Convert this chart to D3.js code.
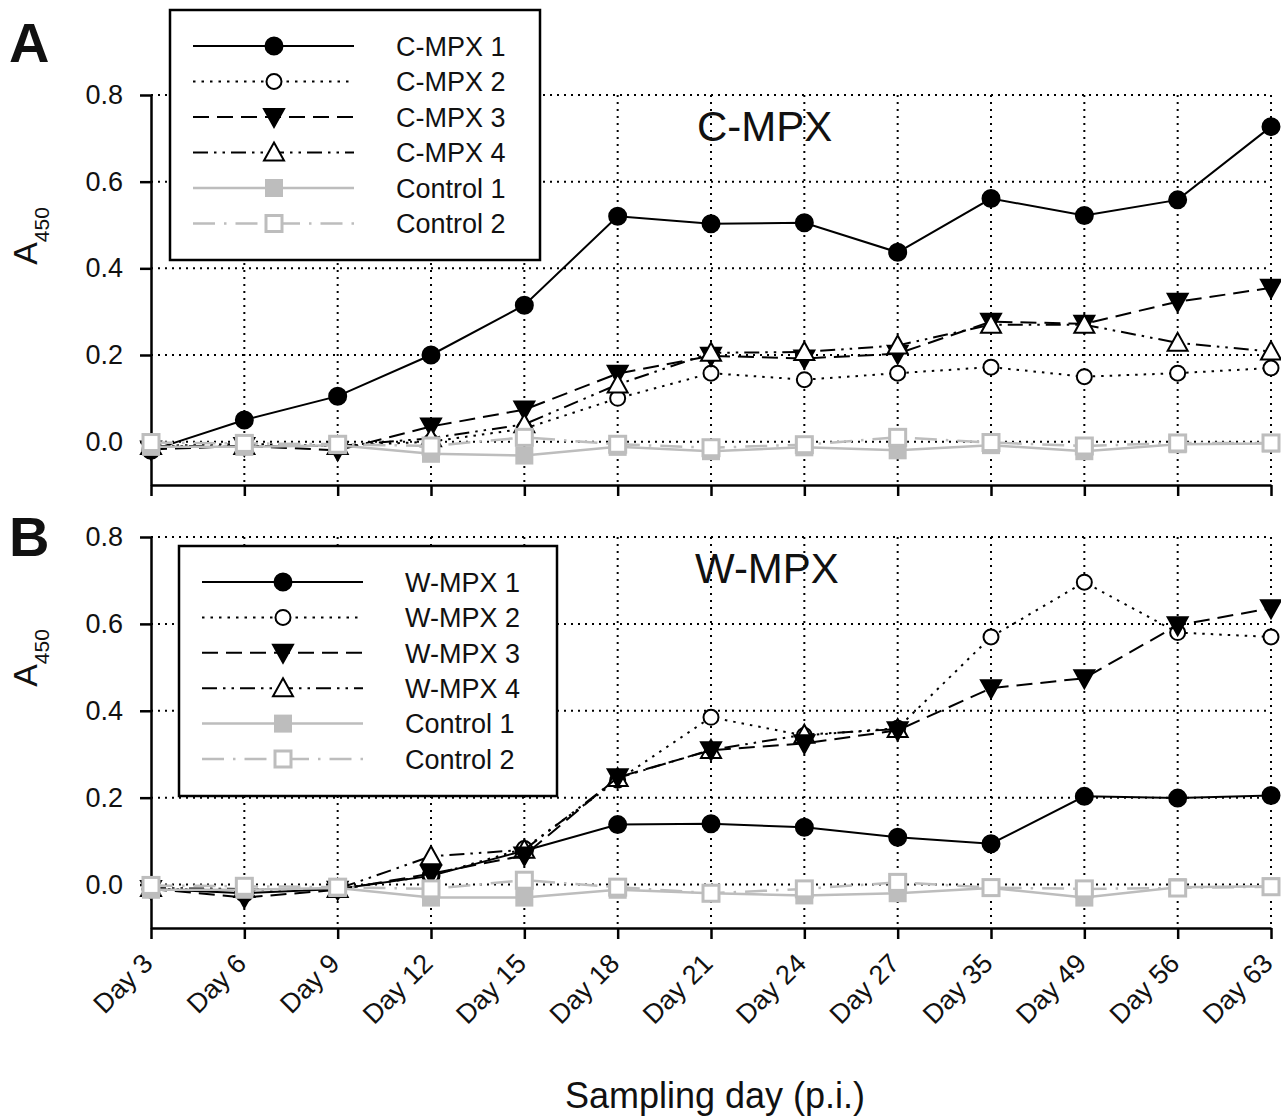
<!DOCTYPE html>
<html>
<head>
<meta charset="utf-8">
<script src="https://cdn.jsdelivr.net/npm/d3@7"></script>
<style>
  body { margin: 0; background: #fff; }
  svg text { font-family: "Liberation Sans", Arial, sans-serif; fill: #111; }
</style>
</head>
<body>
<div id="chart"></div>
<script>
// DATA
const days = ["Day 3", "Day 6", "Day 9", "Day 12", "Day 15", "Day 18", "Day 21",
              "Day 24", "Day 27", "Day 35", "Day 49", "Day 56", "Day 63"];
const yTicks = [0.0, 0.2, 0.4, 0.6, 0.8];

// panel A: C-MPX
const cmpx1 = [-0.02, 0.05, 0.105, 0.2, 0.315, 0.52, 0.503, 0.505, 0.437, 0.561, 0.522, 0.558, 0.727];
const cmpx2 = [-0.01, -0.005, -0.01, 0.0, 0.03, 0.1, 0.158, 0.143, 0.158, 0.172, 0.15, 0.158, 0.17];
const cmpx3 = [-0.018, -0.01, -0.02, 0.035, 0.074, 0.157, 0.198, 0.192, 0.203, 0.277, 0.272, 0.323, 0.355];
const cmpx4 = [-0.01, -0.01, -0.01, 0.008, 0.04, 0.132, 0.205, 0.207, 0.222, 0.27, 0.27, 0.228, 0.208];
const ctrlA1 = [-0.012, -0.012, -0.008, -0.028, -0.032, -0.012, -0.022, -0.013, -0.02, -0.008, -0.022, -0.006, -0.004];
const ctrlA2 = [-0.002, -0.004, -0.006, -0.01, 0.01, -0.006, -0.014, -0.007, 0.01, -0.002, -0.01, -0.003, -0.003];

// panel B: W-MPX (W-MPX 4 only visible up to Day 27)
const wmpx1 = [-0.01, -0.02, -0.01, 0.02, 0.078, 0.138, 0.14, 0.132, 0.109, 0.094, 0.203, 0.199, 0.205];
const wmpx2 = [-0.01, -0.012, -0.01, 0.02, 0.083, 0.24, 0.385, 0.343, 0.36, 0.57, 0.696, 0.58, 0.57];
const wmpx3 = [-0.01, -0.03, -0.012, 0.025, 0.067, 0.247, 0.309, 0.325, 0.355, 0.452, 0.475, 0.597, 0.636];
const wmpx4 = [-0.008, -0.01, -0.01, 0.065, 0.08, 0.245, 0.31, 0.345, 0.358];
const ctrlB1 = [-0.012, -0.012, -0.008, -0.03, -0.03, -0.012, -0.02, -0.025, -0.02, -0.008, -0.03, -0.006, -0.004];
const ctrlB2 = [-0.002, -0.004, -0.006, -0.01, 0.01, -0.006, -0.02, -0.01, 0.005, -0.007, -0.01, -0.008, -0.005];

const namesA = ["C-MPX 1", "C-MPX 2", "C-MPX 3", "C-MPX 4", "Control 1", "Control 2"];
const namesB = ["W-MPX 1", "W-MPX 2", "W-MPX 3", "W-MPX 4", "Control 1", "Control 2"];

// 1: SVG
const W = 1281, H = 1116;
const svg = d3.select("#chart").append("svg")
    .attr("width", W).attr("height", H);

const gray = "#bdbdbd";
// one style per series slot (same for both panels)
const styles = [
  { color: "#000", dash: null,               width: 2,   marker: "circle",  fill: "#000" },
  { color: "#000", dash: "2.5,6",            width: 2,   marker: "circle",  fill: "#fff" },
  { color: "#000", dash: "16,8",             width: 2,   marker: "triDown", fill: "#000" },
  { color: "#000", dash: "15,6,2.5,6,2.5,6", width: 2,   marker: "triUp",   fill: "#fff" },
  { color: gray,   dash: null,               width: 2.5, marker: "square",  fill: gray },
  { color: gray,   dash: "22,9,2.5,9",       width: 2.5, marker: "square",  fill: "#fff" }
];

// shared x scale
const x = d3.scalePoint().domain(days).range([151, 1271]);

// draw a marker centered at (0,0) inside group g
function drawMarker(g, st) {
  if (st.marker === "circle") {
    g.append("circle").attr("r", st.fill === "#000" ? 8.5 : 7.5)
      .attr("fill", st.fill).attr("stroke", "#000").attr("stroke-width", 2);
  } else if (st.marker === "triDown") {
    g.append("path").attr("d", "M-10,-8L10,-8L0,10Z")
      .attr("fill", st.fill).attr("stroke", "#000").attr("stroke-width", 2);
  } else if (st.marker === "triUp") {
    g.append("path").attr("d", "M0,-10L10,8L-10,8Z")
      .attr("fill", st.fill).attr("stroke", "#000").attr("stroke-width", 2);
  } else {
    const s = st.fill === gray ? 18 : 16;
    g.append("rect").attr("x", -s / 2).attr("y", -s / 2).attr("width", s).attr("height", s)
      .attr("fill", st.fill).attr("stroke", gray).attr("stroke-width", st.fill === gray ? 0 : 3);
  }
}

function drawPanel(p) {
  const y = d3.scaleLinear().domain([-0.1, 0.8]).range([p.bottom, p.top]);
  const g = svg.append("g");

  // grid (dotted)
  g.append("g").selectAll("line.h").data(yTicks).enter().append("line")
    .attr("x1", x.range()[0]).attr("x2", x.range()[1])
    .attr("y1", d => y(d)).attr("y2", d => y(d))
    .attr("stroke", "#000").attr("stroke-width", 2).attr("stroke-dasharray", "2,5");
  g.append("g").selectAll("line.v").data(days.slice(1)).enter().append("line")
    .attr("x1", d => x(d)).attr("x2", d => x(d))
    .attr("y1", y(0.8)).attr("y2", p.bottom)
    .attr("stroke", "#000").attr("stroke-width", 2).attr("stroke-dasharray", "2,5");

  // axes
  const yAxis = g.append("g").attr("transform", `translate(${x.range()[0]},0)`)
    .call(d3.axisLeft(y).tickValues(yTicks).tickFormat(d3.format(".1f"))
      .tickSize(11).tickSizeOuter(0).tickPadding(17));
  yAxis.selectAll("text").style("font-size", "27px");

  const xAxis = g.append("g").attr("transform", `translate(0,${p.bottom})`)
    .call(d3.axisBottom(x).tickSize(11).tickSizeOuter(0));
  if (p.labels) {
    xAxis.selectAll("text")
      .attr("x", 0).attr("y", 0).attr("dy", null)
      .attr("text-anchor", "end")
      .attr("transform", "translate(3,37) rotate(-45)")
      .style("font-size", "27px");
  } else {
    xAxis.selectAll("text").remove();
  }
  g.selectAll(".domain, .tick line").attr("stroke", "#000").attr("stroke-width", 2.5);

  // series (drawn in p.order so overlapping markers stack like the original)
  const line = d3.line().x((d, i) => x(days[i])).y(d => y(d));
  p.order.forEach(k => {
    const vals = p.series[k];
    const st = styles[k];
    g.append("path").datum(vals)
      .attr("d", line).attr("fill", "none")
      .attr("stroke", st.color).attr("stroke-width", st.width)
      .attr("stroke-dasharray", st.dash);
    g.append("g").selectAll("g").data(vals).enter().append("g")
      .attr("transform", (d, i) => `translate(${x(days[i])},${y(d)})`)
      .each(function () { drawMarker(d3.select(this), st); });
  });

  // legend
  const L = p.legend;
  const lg = g.append("g");
  lg.append("rect").attr("x", L.x).attr("y", L.y).attr("width", L.w).attr("height", L.h)
    .attr("fill", "#fff").attr("stroke", "#000").attr("stroke-width", 2.5);
  p.names.forEach((name, k) => {
    const st = styles[k];
    const ry = L.y + L.row0 + k * L.step;
    lg.append("line").attr("x1", L.x + 23).attr("x2", L.x + 184)
      .attr("y1", ry).attr("y2", ry)
      .attr("stroke", st.color).attr("stroke-width", st.width)
      .attr("stroke-dasharray", st.dash);
    drawMarker(lg.append("g").attr("transform", `translate(${L.x + 104},${ry})`), st);
    lg.append("text").attr("x", L.x + 226).attr("y", ry).attr("dy", "0.36em")
      .style("font-size", "27px").text(name);
  });

  // panel title
  g.append("text").attr("x", p.titleX).attr("y", p.titleY)
    .style("font-size", "42px").text(p.title);

  // panel letter
  g.append("text").attr("x", 9).attr("y", p.letterY)
    .style("font-size", "56px").style("font-weight", "bold").text(p.letter);

  // y-axis label A450
  const yl = g.append("text")
    .attr("transform", `translate(37,${p.yLabelY}) rotate(-90)`)
    .attr("text-anchor", "middle").style("font-size", "34px");
  yl.append("tspan").text("A");
  yl.append("tspan").attr("baseline-shift", "sub").style("font-size", "21px").text("450");
}

drawPanel({
  top: 95, bottom: 485, labels: false, series: [cmpx1, cmpx2, cmpx3, cmpx4, ctrlA1, ctrlA2],
  order: [0, 1, 2, 3, 4, 5],
  names: namesA, legend: { x: 170, y: 10, w: 370, h: 250, row0: 36, step: 35.5 },
  title: "C-MPX", titleX: 697, titleY: 141, letter: "A", letterY: 62, yLabelY: 236
});
drawPanel({
  top: 537, bottom: 928, labels: true, series: [wmpx1, wmpx2, wmpx3, wmpx4, ctrlB1, ctrlB2],
  order: [0, 1, 3, 2, 4, 5],
  names: namesB, legend: { x: 179, y: 546, w: 378, h: 250, row0: 36, step: 35.4 },
  title: "W-MPX", titleX: 695, titleY: 583, letter: "B", letterY: 556, yLabelY: 658
});

// x-axis title
svg.append("text").attr("x", 715).attr("y", 1108)
  .attr("text-anchor", "middle").style("font-size", "36px")
  .text("Sampling day (p.i.)");
</script>
</body>
</html>
